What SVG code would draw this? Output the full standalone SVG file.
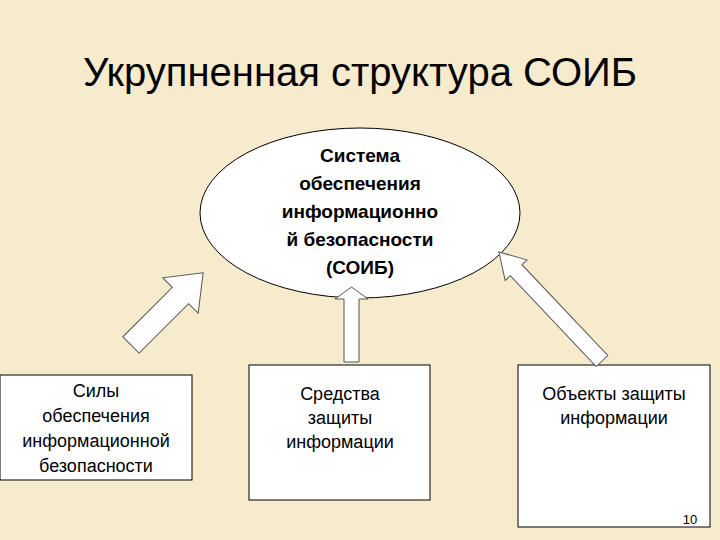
<svg xmlns="http://www.w3.org/2000/svg" width="720" height="540" viewBox="0 0 720 540">
<style>
.t{font-family:"Liberation Sans",Arial,sans-serif;fill:#000;text-anchor:middle}
.b{font-size:19px;font-weight:bold}
.r{font-size:18px}
.n{fill:#fff;stroke:#000;stroke-width:1}
.a{fill:#fff;stroke:#555;stroke-width:1}
</style>
<rect width="720" height="540" fill="#f6ebcc"/>
<text class="t" x="360" y="86" font-size="40">Укрупненная структура СОИБ</text>
<g id="soib"><ellipse class="n" cx="360" cy="213" rx="160" ry="85"/>
<text class="t b"><tspan x="360" y="162">Система</tspan><tspan x="360" y="190">обеспечения</tspan><tspan x="360" y="218">информационно</tspan><tspan x="360" y="246">й безопасности</tspan><tspan x="360" y="274">(СОИБ)</tspan></text></g>
<g id="sily"><rect class="n" x="0" y="375" width="192" height="105"/>
<text class="t r"><tspan x="96" y="397">Силы</tspan><tspan x="96" y="422">обеспечения</tspan><tspan x="96" y="447">информационной</tspan><tspan x="96" y="472">безопасности</tspan></text></g>
<g id="sredstva"><rect class="n" x="249" y="365" width="181" height="135"/>
<text class="t r"><tspan x="340" y="400">Средства</tspan><tspan x="340" y="424">защиты</tspan><tspan x="340" y="448">информации</tspan></text></g>
<g id="obekty"><rect class="n" x="518" y="365" width="192" height="162"/>
<text class="t r"><tspan x="614" y="400">Объекты защиты</tspan><tspan x="614" y="424">информации</tspan></text></g>
<g id="connectors">
<polygon class="a" transform="translate(131,345) rotate(45)" points="-11.5,0 11.5,0 11.5,-70 25,-70 0,-102 -25,-70 -11.5,-70"/>
<polygon class="a" transform="translate(351.5,362)" points="-7.5,0 7.5,0 7.5,-63 16.5,-63 0,-75 -16.5,-63 -7.5,-63"/>
<polygon class="a" transform="translate(602,361) rotate(-43.4)" points="-8,0 8,0 8,-125 15,-125 0,-150 -15,-125 -8,-125"/>
</g>
<text class="t" x="690" y="524" font-size="13">10</text>
</svg>
